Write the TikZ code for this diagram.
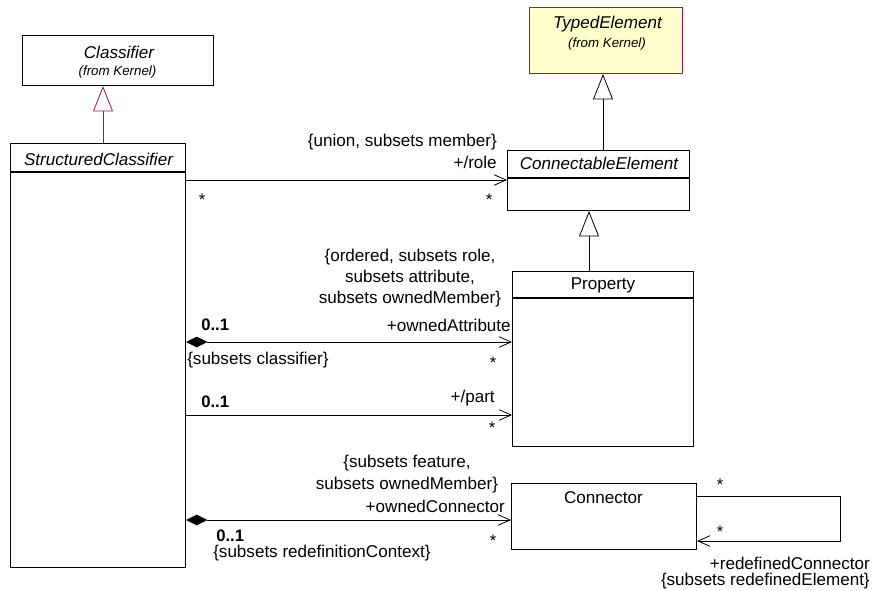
\documentclass[tikz,border=0pt]{standalone}
\usepackage{fontspec}
\setmainfont{Liberation Sans}
\usetikzlibrary{arrows.meta}
\definecolor{rojouml}{RGB}{160,20,72}
\definecolor{amarillouml}{RGB}{255,255,204}
\tikzset{
  clase/.style={draw, line width=0.8pt, fill=white, anchor=north west, inner sep=0pt},
  tam/.style 2 args={minimum width=#1*0.75pt, minimum height=#2*0.75pt},
  titulo/.style={font=\fontsize{12.8}{15}\selectfont\itshape, inner sep=0pt},
  origen/.style={font=\fontsize{10}{12}\selectfont\itshape, inner sep=0pt},
  etiqueta/.style={font=\fontsize{12.8}{16}\selectfont, inner sep=0pt},
  mult/.style={font=\fontsize{12.5}{15}\selectfont\bfseries, inner sep=0pt},
  estrella/.style={font=\fontsize{12.5}{15}\selectfont, inner sep=0pt},
  asoc/.style={line width=0.6pt, -{Straight Barb[length=9pt,width=8pt]}},
  comp/.style={line width=0.6pt, {Diamond[length=16pt,width=8pt]}-{Straight Barb[length=9pt,width=8pt]}},
  gen/.style={line width=0.6pt, -{Triangle[open,length=19pt,width=15pt,fill=white]}},
}
\begin{document}
\begin{tikzpicture}[x=0.75pt,y=-0.75pt]
  \useasboundingbox (0,0) rectangle (875,590);
  % Clases: la y crece hacia abajo, en pixeles de la figura.
  \node[clase, tam={191}{50}] (classifier) at (22,35) {};
  \node[titulo] (classifiertit) at (119,52) {Classifier};
  \node[origen] (classifierorg) at (117.5,72) {(from Kernel)};
  \node[clase, tam={153}{66}, fill=amarillouml, draw=rojouml] (typed) at (529,7) {};
  \node[titulo] (typedtit) at (607.5,24) {TypedElement};
  \node[origen] (typedorg) at (607,44) {(from Kernel)};
  \node[clase, tam={175}{424}] (structured) at (10,143) {};
  \draw[line width=0.8pt] (structured.north west) ++(0,29) -- ++(175,0);
  \node[titulo] (structuredtit) at (98.5,159) {StructuredClassifier};
  \node[clase, tam={182}{60}] (connectable) at (507,150) {};
  \draw[line width=0.8pt] (connectable.north west) ++(0,28) -- ++(182,0);
  \node[titulo] (connectabletit) at (599,163) {ConnectableElement};
  \node[clase, tam={181}{175}] (property) at (512,271) {};
  \draw[line width=0.8pt] (property.north west) ++(0,27) -- ++(181,0);
  \node[etiqueta] (propertytit) at (603,285) {Property};
  \node[clase, tam={185}{66}] (connector) at (511,483) {};
  \node[etiqueta] (connectortit) at (603.5,498) {Connector};

  \draw[gen, draw=rojouml] (structured.north -| 103,0) -- (classifier.south -| 103,0);
  \draw[gen] (connectable.north -| 603,0) -- (typed.south -| 603,0);
  \draw[gen] (property.north -| 589,0) -- (connectable.south -| 589,0);

  \draw[asoc] (structured.east |- 0,180) -- (connectable.west |- 0,180);
  \node[etiqueta, anchor=east] (roleset) at (497,142) {\{union, subsets member\}};
  \node[etiqueta, anchor=east] (role) at (497,162) {+/role};
  \node[estrella] (rolemultA) at (202,200) {*};
  \node[estrella] (rolemultB) at (489,200) {*};

  \draw[comp] (structured.east |- 0,342) -- (property.west |- 0,342);
  \node[etiqueta, align=center] (attrset) at (410,278) {\{ordered, subsets role,\\subsets attribute,\\subsets ownedMember\}};
  \node[mult, anchor=west] (attrmultA) at (201,325) {0..1};
  \node[etiqueta, anchor=east] (attr) at (511,325) {+ownedAttribute};
  \node[etiqueta, anchor=west] (attrcls) at (187,360) {\{subsets classifier\}};
  \node[estrella] (attrmultB) at (493,363) {*};

  \draw[asoc] (structured.east |- 0,415) -- (property.west |- 0,415);
  \node[mult, anchor=west] (partmultA) at (201,402) {0..1};
  \node[etiqueta, anchor=east] (part) at (495,398) {+/part};
  \node[estrella] (partmultB) at (492,428) {*};

  \draw[comp] (structured.east |- 0,520) -- (connector.west |- 0,520);
  \node[etiqueta, align=center] (connset) at (407,474) {\{subsets feature,\\subsets ownedMember\}};
  \node[etiqueta, anchor=east] (conn) at (505,506) {+ownedConnector};
  \node[mult, anchor=west] (connmultA) at (216,536) {0..1};
  \node[etiqueta, anchor=west] (connctx) at (213,553) {\{subsets redefinitionContext\}};
  \node[estrella] (connmultB) at (493,541) {*};

  \draw[asoc] (connector.east |- 0,496) -| (840,541) -- (connector.east |- 0,541);
  \node[estrella] (redefmultA) at (720,485) {*};
  \node[estrella] (redefmultB) at (720,532) {*};
  \node[etiqueta, anchor=east] (redef) at (870,563.5) {+redefinedConnector};
  \node[etiqueta, anchor=east] (redefset) at (870,581) {\{subsets redefinedElement\}};
\end{tikzpicture}
\end{document}
